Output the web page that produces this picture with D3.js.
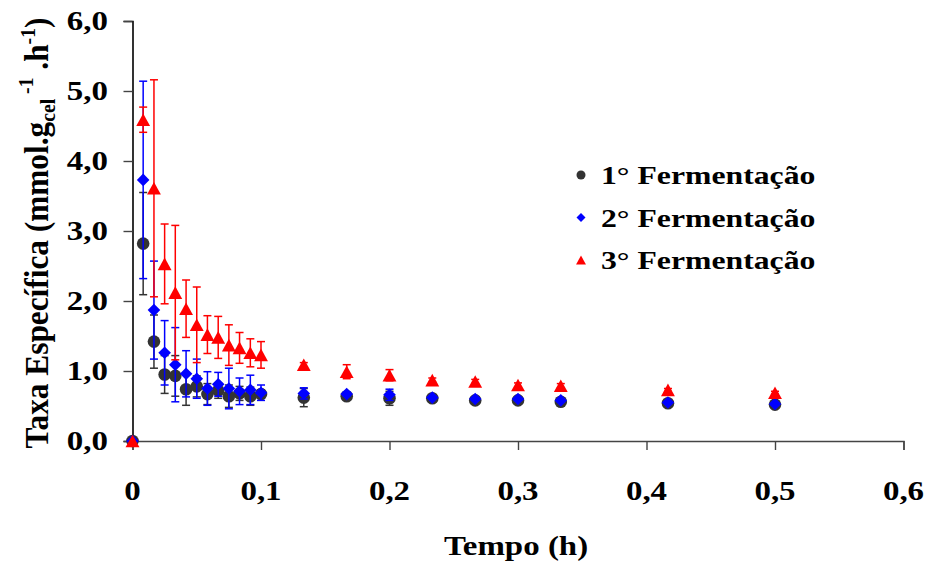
<!DOCTYPE html>
<html>
<head>
<meta charset="utf-8">
<script src="https://cdn.jsdelivr.net/npm/d3@7"></script>
<style>
  body { margin: 0; background: #fff; }
  text { font-family: "Liberation Serif", "Times New Roman", serif; font-weight: bold; fill: #000; }
</style>
</head>
<body>
<div id="chart"></div>
<script>
// time points (h)
const tempo = [0, 0.0083, 0.0167, 0.025, 0.0333, 0.0417, 0.05, 0.0583, 0.0667, 0.075, 0.0833, 0.0917, 0.1,
  0.1333, 0.1667, 0.2, 0.2333, 0.2667, 0.3, 0.3333, 0.4167, 0.5];

const ferm1 = [0, 2.82, 1.42, 0.95, 0.93, 0.74, 0.78, 0.67, 0.72, 0.64, 0.68, 0.64, 0.67,
  0.62, 0.64, 0.61, 0.61, 0.58, 0.58, 0.56, 0.54, 0.52];
const err1 = [0, 0.73, 0.38, 0.27, 0.29, 0.23, 0.15, 0.15, 0.11, 0.16, 0.10, 0.13, 0.06,
  0.13, 0.03, 0.10, 0.02, 0.02, 0.02, 0.02, 0.02, 0.02];

const ferm2 = [0, 3.73, 1.87, 1.26, 1.09, 0.96, 0.89, 0.75, 0.81, 0.75, 0.71, 0.73, 0.69,
  0.68, 0.67, 0.66, 0.62, 0.60, 0.60, 0.58, 0.55, 0.53];
const err2 = [0, 1.41, 0.70, 0.46, 0.53, 0.33, 0.28, 0.24, 0.17, 0.29, 0.19, 0.21, 0.11,
  0.08, 0.03, 0.08, 0.02, 0.02, 0.02, 0.02, 0.02, 0.02];

const ferm3 = [0, 4.59, 3.61, 2.53, 2.12, 1.89, 1.66, 1.52, 1.48, 1.37, 1.33, 1.26, 1.23,
  1.09, 0.99, 0.94, 0.87, 0.85, 0.80, 0.79, 0.73, 0.69];
const err3 = [0, 0.18, 1.55, 0.57, 0.96, 0.41, 0.54, 0.27, 0.30, 0.29, 0.22, 0.20, 0.19,
  0.03, 0.10, 0.08, 0.03, 0.03, 0.03, 0.03, 0.02, 0.02];

const seriesNames = ["1° Fermentação", "2° Fermentação", "3° Fermentação"];

const xTicks = [0, 0.1, 0.2, 0.3, 0.4, 0.5, 0.6];
const xTickLabels = ["0", "0,1", "0,2", "0,3", "0,4", "0,5", "0,6"];
const yTicks = [0, 1, 2, 3, 4, 5, 6];
const yTickLabels = ["0,0", "1,0", "2,0", "3,0", "4,0", "5,0", "6,0"];

(function () {
  const W = 927, H = 561;
  const margin = { top: 21, right: 23.5, bottom: 120, left: 132.5 };
  const SX = 1.22; // the picture is stretched sideways, so is the text

  const svg = d3.select("#chart").append("svg").attr("width", W).attr("height", H);

  const x = d3.scaleLinear().domain([0, 0.6]).range([margin.left, W - margin.right]);
  const y = d3.scaleLinear().domain([0, 6]).range([H - margin.bottom, margin.top]);

  const series = [
    { name: seriesNames[0], values: ferm1, errs: err1, color: "#333333", shape: "circle" },
    { name: seriesNames[1], values: ferm2, errs: err2, color: "#0000ff", shape: "diamond" },
    { name: seriesNames[2], values: ferm3, errs: err3, color: "#ff0000", shape: "triangle" },
  ];

  function markerPath(shape, s) {
    if (shape === "circle") {
      return d3.symbol().type(d3.symbolCircle).size(Math.PI * s * s)();
    }
    if (shape === "diamond") {
      return `M0,${-s}L${s},0L0,${s}L${-s},0Z`;
    }
    // triangle centred on its box
    const w = s * 1.1, h = s;
    return `M0,${-h}L${w},${h}L${-w},${h}Z`;
  }

  // axes
  const xAxis = svg.append("g")
    .attr("transform", `translate(0,${y(0)})`)
    .call(d3.axisBottom(x).tickValues(xTicks).tickSize(9).tickFormat(""));
  xAxis.select(".domain").attr("stroke", "#444").attr("stroke-width", 1.4);
  xAxis.selectAll(".tick line").attr("stroke", "#444").attr("stroke-width", 1.4);

  const yAxis = svg.append("g")
    .attr("transform", `translate(${x(0)},0)`)
    .call(d3.axisLeft(y).tickValues(yTicks).tickSize(9).tickFormat(""));
  yAxis.select(".domain").attr("stroke", "#000").attr("stroke-width", 1.6);
  yAxis.selectAll(".tick line").attr("stroke", "#444").attr("stroke-width", 1.4);

  // tick labels
  svg.append("g").selectAll("text")
    .data(xTicks)
    .join("text")
    .attr("transform", (d) => `translate(${x(d)},500) scale(${SX},1)`)
    .attr("text-anchor", "middle")
    .attr("font-size", "27px")
    .text((d, i) => xTickLabels[i]);

  svg.append("g").selectAll("text")
    .data(yTicks)
    .join("text")
    .attr("transform", (d) => `translate(108,${y(d) + 9}) scale(${SX},1)`)
    .attr("text-anchor", "end")
    .attr("font-size", "27px")
    .text((d, i) => yTickLabels[i]);

  // axis titles
  svg.append("text")
    .attr("transform", `translate(${x(0.3) - 2},555) scale(${SX},1)`)
    .attr("text-anchor", "middle")
    .attr("font-size", "27px")
    .text("Tempo (h)");

  const yt = svg.append("text")
    .attr("transform", `translate(48,233) rotate(-90) scale(1.16,${SX})`)
    .attr("text-anchor", "middle")
    .attr("font-size", "27px");
  yt.append("tspan").text("Taxa Específica (mmol.g");
  yt.append("tspan").attr("font-size", "17px").attr("dy", 6).text("cel");
  yt.append("tspan").attr("font-size", "17px").attr("dy", -18).text(" -1");
  yt.append("tspan").attr("dy", 12).text(" .h");
  yt.append("tspan").attr("font-size", "17px").attr("dy", -11).text("-1");
  yt.append("tspan").attr("dy", 11).text(")");

  // data: error bars then markers, series in order
  const cap = 4;
  series.forEach((s) => {
    const g = svg.append("g");
    const pts = tempo.map((t, i) => ({ t, v: s.values[i], e: s.errs[i] }));
    const bars = g.selectAll(".err").data(pts.filter((d) => d.e > 0)).join("g")
      .attr("stroke", s.color).attr("stroke-width", 1.5).attr("fill", "none");
    bars.append("line")
      .attr("x1", (d) => x(d.t)).attr("x2", (d) => x(d.t))
      .attr("y1", (d) => y(d.v + d.e)).attr("y2", (d) => y(d.v - d.e));
    bars.append("line")
      .attr("x1", (d) => x(d.t) - cap).attr("x2", (d) => x(d.t) + cap)
      .attr("y1", (d) => y(d.v + d.e)).attr("y2", (d) => y(d.v + d.e));
    bars.append("line")
      .attr("x1", (d) => x(d.t) - cap).attr("x2", (d) => x(d.t) + cap)
      .attr("y1", (d) => y(d.v - d.e)).attr("y2", (d) => y(d.v - d.e));

    g.selectAll(".pt").data(pts).join("path")
      .attr("d", markerPath(s.shape, 6.3))
      .attr("transform", (d) => `translate(${x(d.t)},${y(d.v)})`)
      .attr("fill", s.color);
  });

  // legend
  const legend = svg.append("g").attr("transform", "translate(581,175)");
  series.forEach((s, i) => {
    const row = legend.append("g").attr("transform", `translate(0,${i * 42.5})`);
    row.append("path").attr("d", markerPath(s.shape, 4.5)).attr("fill", s.color);
    row.append("text")
      .attr("transform", `translate(20,9) scale(${SX},1)`)
      .attr("font-size", "26px")
      .text(s.name);
  });
})();
</script>
</body>
</html>
